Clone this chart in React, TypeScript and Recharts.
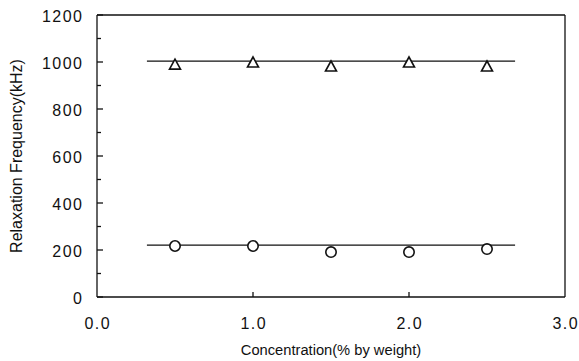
import { ComposedChart, ReferenceLine, Scatter, XAxis, YAxis } from "recharts";

const concentration = [0.5, 1.0, 1.5, 2.0, 2.5];
const highFreq = [991, 1000, 983, 1000, 983];
const lowFreq = [217, 217, 191, 191, 204];
const fitRange = [0.32, 2.68];
const highFitLevel = 1004;
const lowFitLevel = 221;
const yTicks = [0, 100, 200, 300, 400, 500, 600, 700, 800, 900, 1000, 1100, 1200];
const xTicks = [0, 1, 2, 3];

const highPoints = concentration.map((c, i) => ({ x: c, y: highFreq[i] }));
const lowPoints = concentration.map((c, i) => ({ x: c, y: lowFreq[i] }));
const highFit = fitRange.map((x) => ({ x, y: highFitLevel }));
const lowFit = fitRange.map((x) => ({ x, y: lowFitLevel }));

const INK = "#111";
const FONT = "'Liberation Sans', Arial, sans-serif";
const Y_MARGIN = 15;
const X_MARGIN = 21;

function Triangle(props: any) {
  const { cx, cy } = props;
  return (
    <polygon
      points={`${cx},${cy - 5} ${cx - 5.5},${cy + 5} ${cx + 5.5},${cy + 5}`}
      fill="#fff"
      stroke={INK}
      strokeWidth={1.6}
    />
  );
}

function Circle(props: any) {
  const { cx, cy } = props;
  return <circle cx={cx} cy={cy} r={5.2} fill="#fff" stroke={INK} strokeWidth={1.6} />;
}

function YTick(props: any) {
  const { x, y, payload } = props;
  const axisX = x + Y_MARGIN;
  const major = payload.value % 200 === 0;
  return (
    <g>
      <line x1={axisX} x2={axisX + (major ? 6 : 4)} y1={y} y2={y} stroke={INK} strokeWidth={1.3} />
      {major && (
        <text
          x={x + 1.5}
          y={y}
          dy={7}
          textAnchor="end"
          fontSize={16}
          letterSpacing={1.5}
          fill={INK}
          fontFamily={FONT}
        >
          {payload.value}
        </text>
      )}
    </g>
  );
}

function XTick(props: any) {
  const { x, y, payload } = props;
  const axisY = y - X_MARGIN;
  return (
    <g>
      {payload.value > 0 && payload.value < 3 && (
        <line x1={x} x2={x} y1={axisY} y2={axisY - 5} stroke={INK} strokeWidth={1.3} />
      )}
      <text
        x={x + 0.75}
        y={y}
        dy={11}
        textAnchor="middle"
        fontSize={16}
        letterSpacing={1.5}
        fill={INK}
        fontFamily={FONT}
      >
        {payload.value.toFixed(1)}
      </text>
    </g>
  );
}

export default function App() {
  return (
    <div style={{ position: "absolute", left: 0, top: 0, background: "#fff" }}>
      <ComposedChart width={579} height={361} margin={{ top: 15, right: 14, left: 0, bottom: 0 }}>
        <XAxis
          type="number"
          dataKey="x"
          domain={[0, 3]}
          ticks={xTicks}
          tick={<XTick />}
          tickLine={false}
          tickSize={0}
          tickMargin={X_MARGIN}
          height={64}
          axisLine={{ stroke: INK, strokeWidth: 1.3 }}
          label={{
            value: "Concentration(% by weight)",
            position: "insideBottom",
            offset: 6,
            fontSize: 14.7,
            fill: INK,
            fontFamily: FONT,
          }}
        />
        <YAxis
          type="number"
          dataKey="y"
          domain={[0, 1200]}
          ticks={yTicks}
          interval={0}
          tick={<YTick />}
          tickLine={false}
          tickSize={0}
          tickMargin={Y_MARGIN}
          width={97}
          axisLine={{ stroke: INK, strokeWidth: 1.3 }}
          label={{
            value: "Relaxation Frequency(kHz)",
            angle: -90,
            position: "insideLeft",
            offset: 16,
            fontSize: 16,
            fill: INK,
            fontFamily: FONT,
            style: { textAnchor: "middle" },
          }}
        />
        <ReferenceLine y={1200} stroke={INK} strokeWidth={1.3} />
        <ReferenceLine x={3} stroke={INK} strokeWidth={1.3} />
        <Scatter data={highFit} line={{ stroke: INK, strokeWidth: 1.2 }} shape={() => <g />} isAnimationActive={false} />
        <Scatter data={lowFit} line={{ stroke: INK, strokeWidth: 1.2 }} shape={() => <g />} isAnimationActive={false} />
        <Scatter data={highPoints} shape={<Triangle />} isAnimationActive={false} />
        <Scatter data={lowPoints} shape={<Circle />} isAnimationActive={false} />
      </ComposedChart>
    </div>
  );
}
